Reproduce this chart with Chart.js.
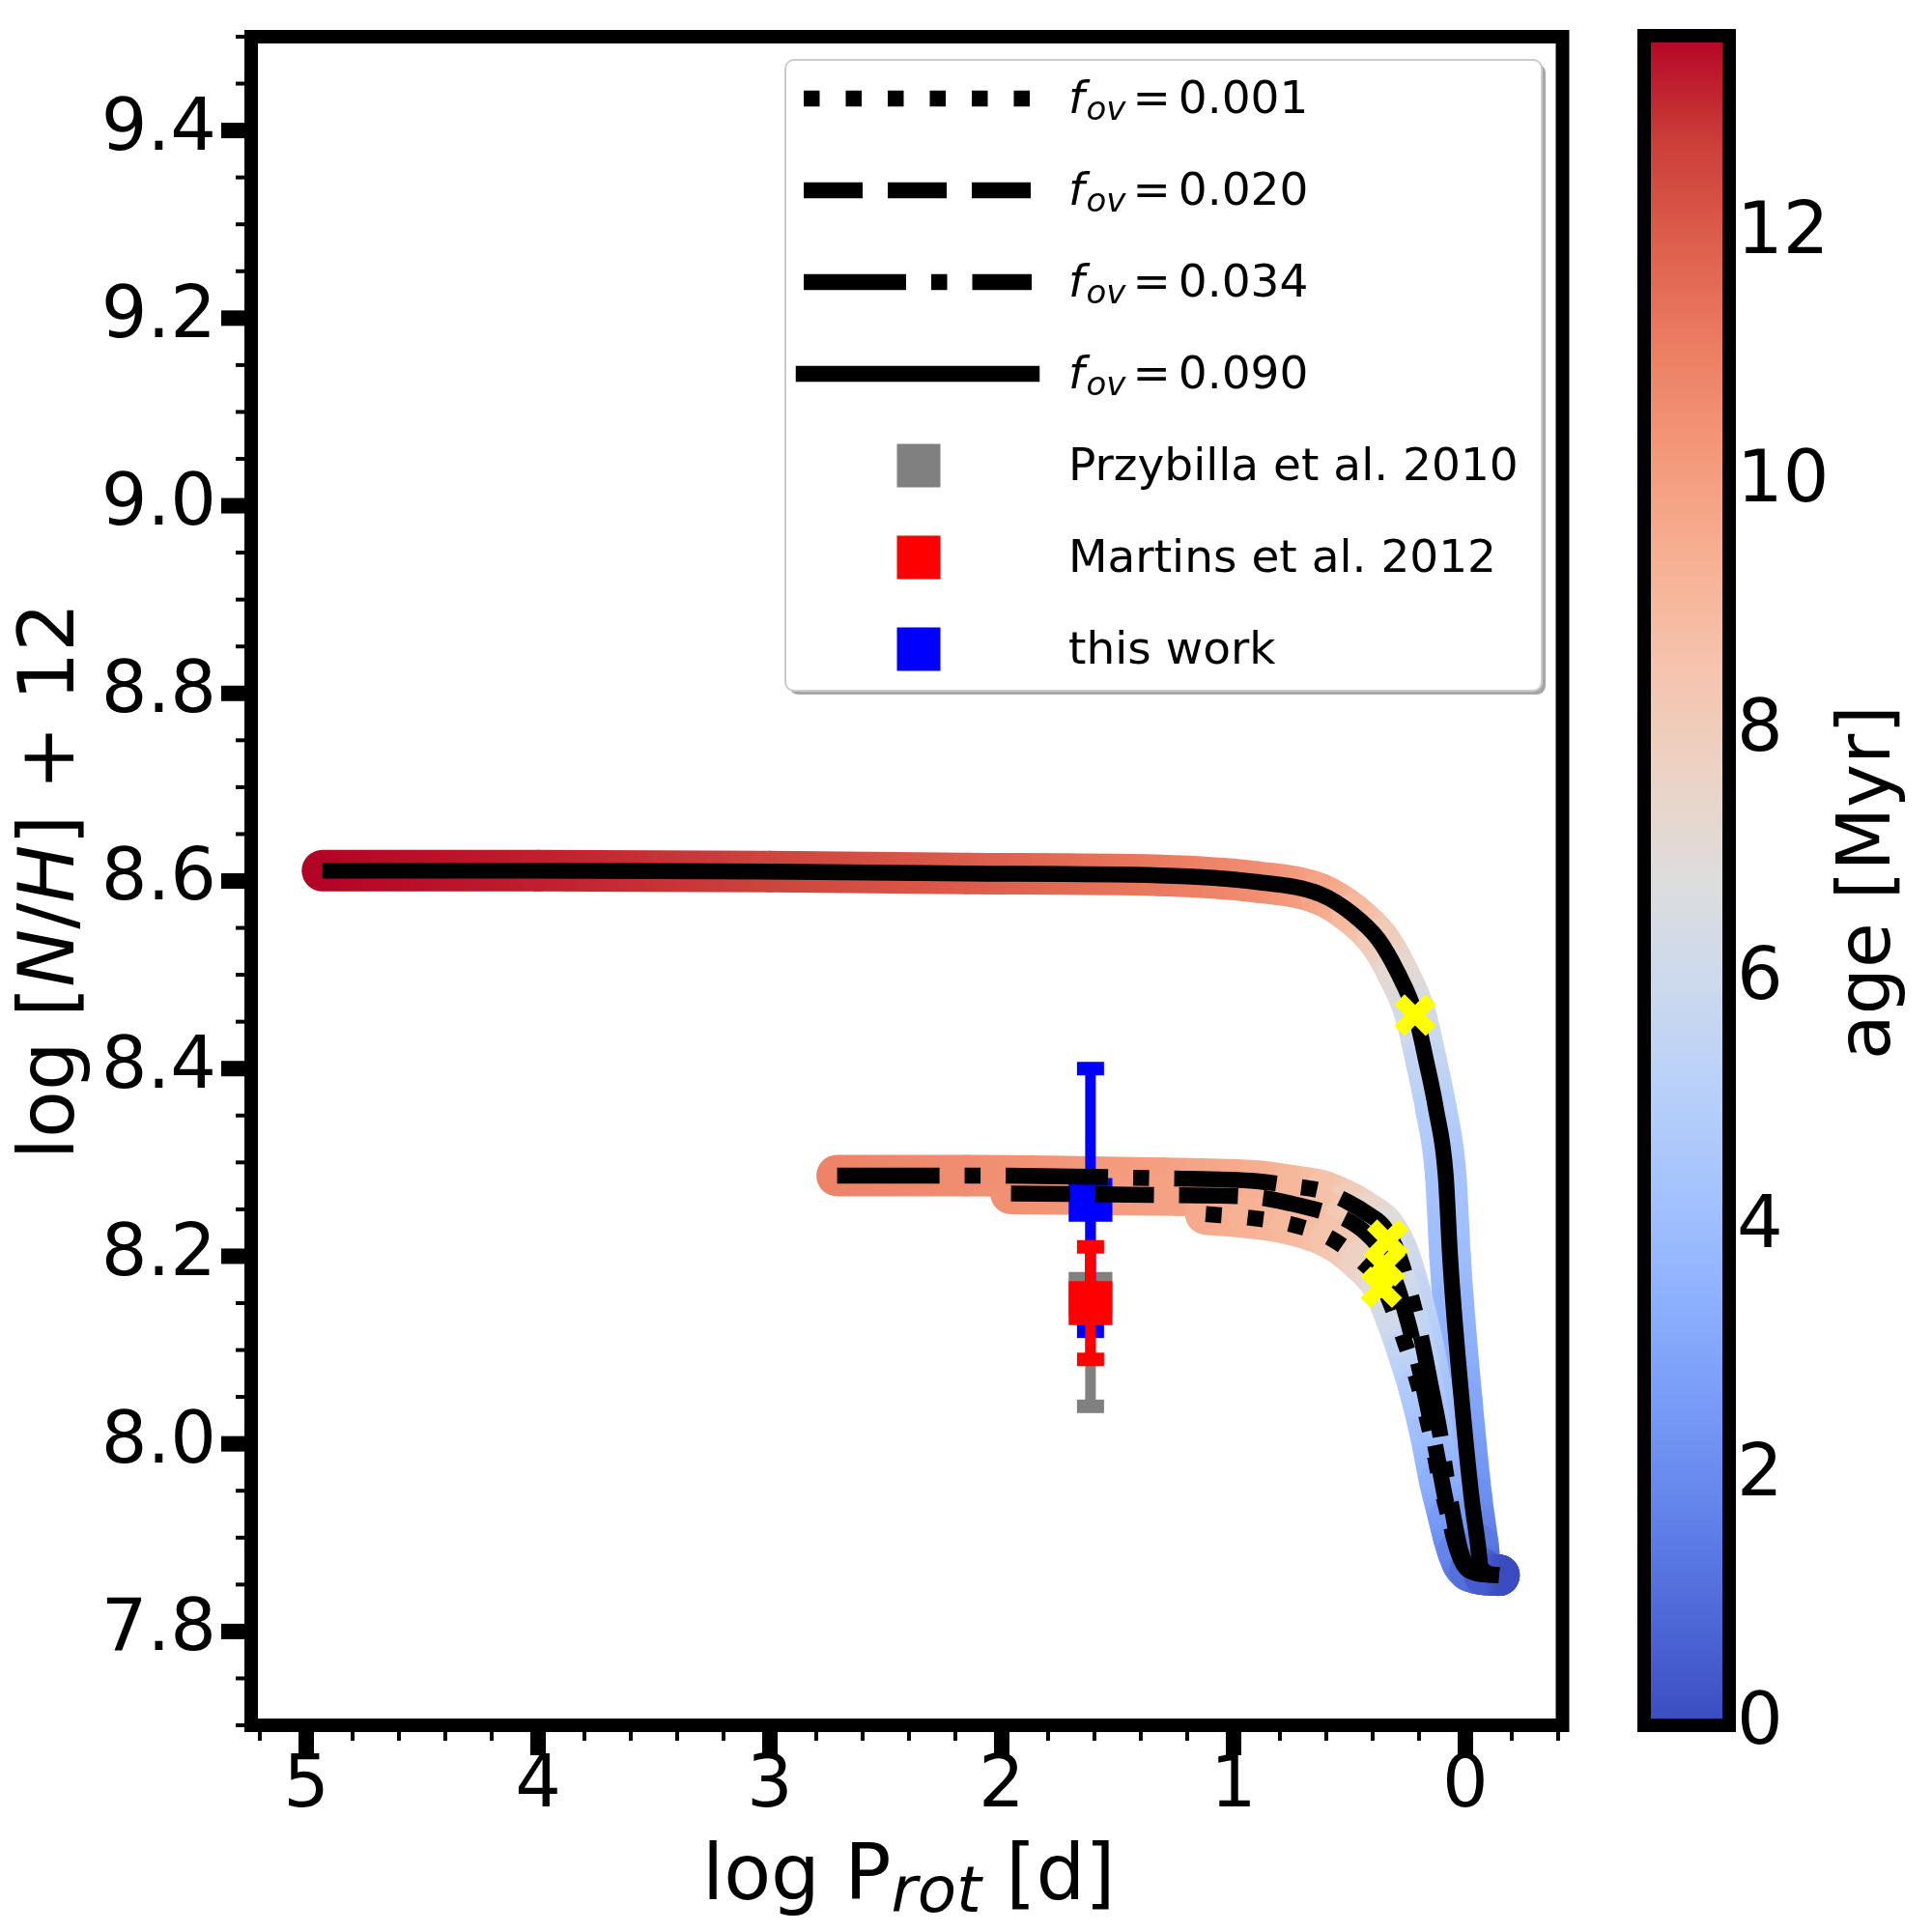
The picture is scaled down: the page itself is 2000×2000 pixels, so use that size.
<!DOCTYPE html>
<html>
<head>
<meta charset="utf-8">
<title>log N/H vs log P_rot</title>
<script src="https://cdn.jsdelivr.net/npm/chart.js@4.4.1/dist/chart.umd.min.js"></script>
<style>
  html, body { margin: 0; padding: 0; background: #fff; }
  #wrap { position: relative; width: 2000px; height: 2000px; background: #fff; }
  #main { position: absolute; left: 0; top: 0; }
  #cbar { position: absolute; left: 1640px; top: 0; }
</style>
</head>
<body>
<div id="wrap">
  <canvas id="main" width="2000" height="2000"></canvas>
  <canvas id="cbar" width="360" height="2000"></canvas>
</div>
<script>
// Tracks: log P_rot [d], log [N/H]+12, age [Myr]
const fovLabels = ['0.001', '0.020', '0.034', '0.090'];

const p001 = [1.12, 0.93, 0.75, 0.58, 0.45, 0.36, 0.30, 0.25, 0.20, 0.15, 0.11, 0.07, 0.03, -0.02, -0.08, -0.145];
const n001 = [8.245, 8.241, 8.234, 8.219, 8.195, 8.170, 8.135, 8.100, 8.060, 8.010, 7.960, 7.920, 7.885, 7.866, 7.861, 7.860];
const age001 = [9.6, 9.3, 9.0, 8.5, 7.7, 6.9, 6.2, 5.5, 4.8, 4.1, 3.4, 2.6, 1.8, 1.1, 0.5, 0.0];

const p020 = [1.96, 1.60, 1.24, 0.98, 0.87, 0.75, 0.62, 0.52, 0.43, 0.36, 0.30, 0.25, 0.20, 0.16, 0.12, 0.085, 0.05, 0.01, -0.05, -0.145];
const n020 = [8.267, 8.266, 8.265, 8.264, 8.262, 8.256, 8.248, 8.240, 8.225, 8.205, 8.172, 8.132, 8.082, 8.036, 7.985, 7.940, 7.900, 7.872, 7.862, 7.860];
const age020 = [10.5, 10.2, 9.9, 9.6, 9.4, 9.1, 8.7, 8.2, 7.6, 6.9, 6.2, 5.6, 5.0, 4.4, 3.7, 3.0, 2.4, 1.6, 0.7, 0.0];

const p034 = [2.71, 2.15, 1.30, 0.90, 0.75, 0.61, 0.50, 0.42, 0.35, 0.29, 0.24, 0.19, 0.15, 0.11, 0.08, 0.05, 0.02, -0.02, -0.08, -0.145];
const n034 = [8.286, 8.286, 8.283, 8.280, 8.275, 8.269, 8.257, 8.245, 8.231, 8.203, 8.163, 8.113, 8.063, 8.012, 7.962, 7.920, 7.885, 7.866, 7.861, 7.860];
const age034 = [10.9, 10.6, 10.0, 9.5, 9.1, 8.6, 8.0, 7.5, 6.9, 6.2, 5.6, 5.0, 4.4, 3.8, 3.2, 2.6, 2.0, 1.3, 0.6, 0.0];

const p090 = [4.93, 4.0, 3.0, 2.15, 1.32, 0.90, 0.626, 0.488, 0.376, 0.293, 0.217, 0.168, 0.126, 0.085, 0.066, 0.052, 0.016, -0.026, -0.054, -0.067, -0.145];
const n090 = [8.611, 8.611, 8.610, 8.608, 8.606, 8.599, 8.586, 8.565, 8.538, 8.503, 8.459, 8.407, 8.356, 8.287, 8.200, 8.150, 8.047, 7.944, 7.893, 7.868, 7.860];
const age090 = [13.6, 13.2, 12.6, 12.0, 11.2, 10.6, 9.8, 9.0, 8.1, 7.2, 6.3, 5.6, 5.0, 4.4, 4.0, 3.7, 3.0, 2.2, 1.4, 0.8, 0.0];

// current position on each track (yellow crosses)
const markP = [0.217, 0.335, 0.349, 0.3625];
const markN = [8.457, 8.217, 8.190, 8.167];

// observations
const obsLabels = ['Przybilla et al. 2010', 'Martins et al. 2012', 'this work'];
const obsP = [1.617, 1.617, 1.617];
const obsN = [8.16, 8.15, 8.26];
const obsErr = [0.12, 0.06, 0.14];

const xTicks = [0, 1, 2, 3, 4, 5];
const yTicks = [7.8, 8.0, 8.2, 8.4, 8.6, 8.8, 9.0, 9.2, 9.4];
const cbTicks = [0, 2, 4, 6, 8, 10, 12];
const AGE_MAX = 13.6;

const FAM = '"DejaVu Sans", "Liberation Sans", sans-serif';
const reg = n => `${n}px ${FAM}`;
const ita = n => `italic ${n}px ${FAM}`;
Chart.defaults.font.family = FAM;

// matplotlib coolwarm, 17 stops
const coolwarm = [
  [59, 76, 192], [77, 104, 215], [98, 130, 234], [119, 154, 247], [141, 176, 254],
  [163, 194, 255], [184, 208, 249], [204, 217, 238], [221, 221, 221], [236, 211, 197],
  [245, 196, 173], [247, 177, 148], [244, 154, 123], [236, 127, 99], [222, 96, 77],
  [203, 62, 56], [180, 4, 38]
];
const rgb = c => `rgb(${Math.round(c[0])},${Math.round(c[1])},${Math.round(c[2])})`;
function cmap(age) {
  const t = Math.min(1, Math.max(0, age / AGE_MAX)) * (coolwarm.length - 1);
  const i = Math.min(coolwarm.length - 2, Math.floor(t));
  const f = t - i, a = coolwarm[i], b = coolwarm[i + 1];
  return rgb([0, 1, 2].map(k => a[k] + (b[k] - a[k]) * f));
}

const zip = (xs, ys) => xs.map((x, i) => ({x, y: ys[i]}));

function bandSegment(ages) {
  return {
    borderColor: c => {
      const a0 = ages[c.p0DataIndex], a1 = ages[c.p1DataIndex];
      const x0 = c.p0.x, y0 = c.p0.y, x1 = c.p1.x, y1 = c.p1.y;
      if (![x0, y0, x1, y1].every(Number.isFinite) || (x0 === x1 && y0 === y1)) return cmap((a0 + a1) / 2);
      const g = c.chart.ctx.createLinearGradient(x0, y0, x1, y1);
      g.addColorStop(0, cmap(a0));
      g.addColorStop(1, cmap(a1));
      return g;
    },
    // keeps every segment separate so each gets its own gradient
    borderDashOffset: c => c.p0DataIndex
  };
}

const tracks = [
  {p: p001, n: n001, age: age001, dash: [16.5, 27]},
  {p: p020, n: n020, age: age020, dash: [61, 26]},
  {p: p034, n: n034, age: age034, dash: [106, 26, 16.5, 26]},
  {p: p090, n: n090, age: age090, dash: []}
];

const datasets = [];
tracks.forEach(t => {
  datasets.push({
    data: zip(t.p, t.n), order: 10, borderWidth: 43, pointRadius: 0,
    borderCapStyle: 'round', borderJoinStyle: 'round', cubicInterpolationMode: 'monotone',
    borderColor: cmap(t.age[0]), segment: bandSegment(t.age)
  });
});
tracks.forEach((t, i) => {
  datasets.push({
    label: 'fov=' + fovLabels[i], data: zip(t.p, t.n), order: 2, borderWidth: 16.5,
    pointRadius: 0, borderColor: '#000', borderDash: t.dash, borderCapStyle: 'butt',
    cubicInterpolationMode: 'monotone', legendLine: true
  });
});
const obsColors = ['#808080', '#ff0000', '#0000ff'];
const obsOrder = [5, 3, 4];
obsLabels.forEach((lab, i) => {
  datasets.push({
    label: lab, data: [{x: obsP[i], y: obsN[i]}], order: obsOrder[i], showLine: false,
    pointStyle: 'rect', pointRadius: 32, pointBorderWidth: 0,
    pointBackgroundColor: obsColors[i], backgroundColor: obsColors[i], borderColor: obsColors[i],
    errorBars: [obsErr[i]], legendSquare: true
  });
});
datasets.push({
  data: zip(markP, markN), order: 0, showLine: false, pointStyle: 'crossRot',
  pointRadius: 23, pointBorderWidth: 15, pointBorderColor: '#ffff00', pointBackgroundColor: '#ffff00'
});

function richText(ctx, parts, x, y, rotate) {
  ctx.save();
  ctx.translate(x, y);
  if (rotate) ctx.rotate(-Math.PI / 2);
  ctx.textAlign = 'left';
  ctx.textBaseline = 'alphabetic';
  ctx.fillStyle = '#000';
  let w = 0;
  parts.forEach(p => { ctx.font = p[1]; w += ctx.measureText(p[0]).width; });
  let cx = -w / 2;
  parts.forEach(p => {
    ctx.font = p[1];
    ctx.fillText(p[0], cx, p[2] || 0);
    cx += ctx.measureText(p[0]).width;
  });
  ctx.restore();
}

function roundRect(ctx, x, y, w, h, r) {
  ctx.beginPath();
  ctx.moveTo(x + r, y);
  ctx.arcTo(x + w, y, x + w, y + h, r);
  ctx.arcTo(x + w, y + h, x, y + h, r);
  ctx.arcTo(x, y + h, x, y, r);
  ctx.arcTo(x, y, x + w, y, r);
  ctx.closePath();
}

function drawLegend(chart) {
  const ctx = chart.ctx;
  const L = 813, T = 62, W = 783, H = 653;
  ctx.save();
  ctx.fillStyle = 'rgba(0,0,0,0.35)';
  roundRect(ctx, L + 4, T + 4, W, H, 9); ctx.fill();
  ctx.fillStyle = '#fff';
  roundRect(ctx, L, T, W, H, 9); ctx.fill();
  ctx.strokeStyle = '#cccccc'; ctx.lineWidth = 2; ctx.stroke();

  const entries = chart.data.datasets.filter(d => d.legendLine || d.legendSquare);
  entries.forEach((d, k) => {
    const ry = 102 + 95 * k;
    if (d.legendLine) {
      ctx.save();
      ctx.strokeStyle = '#000';
      ctx.lineWidth = d.borderWidth;
      ctx.setLineDash(d.borderDash);
      ctx.lineCap = d.borderDash.length ? 'butt' : 'square';
      ctx.beginPath(); ctx.moveTo(832, ry); ctx.lineTo(1068, ry); ctx.stroke();
      ctx.restore();
      // f_ov = value
      let x = 1106;
      const base = ry + 15;
      ctx.fillStyle = '#000'; ctx.textBaseline = 'alphabetic'; ctx.textAlign = 'left';
      ctx.font = ita(47); ctx.fillText('f', x, base); x += ctx.measureText('f').width + 2;
      ctx.font = ita(34); ctx.fillText('ov', x, base + 7); x += ctx.measureText('ov').width + 7;
      ctx.font = reg(47); ctx.fillText('=', x, base); x += ctx.measureText('=').width + 8;
      ctx.fillText(fovLabels[k], x, base);
    } else {
      ctx.fillStyle = d.backgroundColor;
      ctx.fillRect(951 - 22.5, ry - 22.5, 45, 45);
      ctx.fillStyle = '#000'; ctx.font = reg(47);
      ctx.textBaseline = 'alphabetic'; ctx.textAlign = 'left';
      ctx.fillText(d.label, 1106, ry + 15);
    }
  });
  ctx.restore();
}

const decor = {
  id: 'decor',
  beforeDatasetDraw(chart, args) {
    const ds = chart.data.datasets[args.index];
    if (!ds.errorBars) return;
    const {ctx, scales: {x, y}} = chart;
    ctx.save();
    ds.data.forEach((pt, i) => {
      const e = ds.errorBars[i];
      const px = x.getPixelForValue(pt.x);
      const hi = y.getPixelForValue(pt.y + e), lo = y.getPixelForValue(pt.y - e);
      ctx.strokeStyle = ds.backgroundColor; ctx.lineWidth = 11;
      ctx.beginPath(); ctx.moveTo(px, hi); ctx.lineTo(px, lo); ctx.stroke();
      ctx.fillStyle = ds.backgroundColor;
      ctx.fillRect(px - 14, hi - 7, 28, 14);
      ctx.fillRect(px - 14, lo - 7, 28, 14);
    });
    ctx.restore();
  },
  afterDatasetsDraw(chart) {
    const {ctx, chartArea: a, scales: {x, y}} = chart;
    ctx.save();
    ctx.fillStyle = '#000';
    for (let k = -2; k <= 26; k++) {
      if (k % 5 === 0) continue;
      const px = x.getPixelForValue(k * 0.2);
      ctx.fillRect(px - 2, a.bottom, 4, 16);
    }
    x.ticks.forEach(t => ctx.fillRect(x.getPixelForValue(t.value) - 8, a.bottom, 16, 31));
    for (let k = 154; k <= 190; k++) {
      if (k % 4 === 0) continue;
      const py = y.getPixelForValue(k * 0.05);
      ctx.fillRect(a.left - 16, py - 2, 16, 4);
    }
    y.ticks.forEach(t => ctx.fillRect(a.left - 31, y.getPixelForValue(t.value) - 8, 31, 16));
    ctx.strokeStyle = '#000'; ctx.lineWidth = 14;
    ctx.strokeRect(a.left, a.top, a.right - a.left, a.bottom - a.top);
    ctx.restore();
  },
  afterDraw(chart) {
    const {ctx, chartArea: a} = chart;
    richText(ctx, [['log P', reg(80)], ['rot', ita(66), 13], [' [d]', reg(80)]], (a.left + a.right) / 2 + 2, 1966);
    richText(ctx, [['log [', reg(80)], ['N', ita(80)], ['/', reg(80)], ['H', ita(80)], ['] + 12', reg(80)]],
      76, (a.top + a.bottom) / 2, true);
    drawLegend(chart);
  }
};

const tickFont = {family: FAM, size: 75};
// stop the scales from reserving room for half-labels at the ends
const noPad = s => { s.paddingTop = 0; s.paddingBottom = 0; s.paddingLeft = 0; s.paddingRight = 0; };

new Chart(document.getElementById('main'), {
  type: 'line',
  data: {datasets},
  options: {
    responsive: false,
    animation: false,
    events: [],
    layout: {padding: {left: 0, top: 37, right: 382.5, bottom: 0}},
    plugins: {legend: {display: false}, tooltip: {enabled: false}},
    scales: {
      x: {
        type: 'linear', reverse: true, min: -0.419, max: 5.2375,
        afterBuildTicks: s => { s.ticks = xTicks.map(v => ({value: v})); },
        afterFit: s => { s.height = 214; noPad(s); },
        grid: {display: false, drawTicks: false}, border: {display: false},
        ticks: {padding: 20, font: tickFont, color: '#000', autoSkip: false, maxRotation: 0, callback: v => String(v)}
      },
      y: {
        type: 'linear', min: 7.7, max: 9.5,
        afterBuildTicks: s => { s.ticks = yTicks.map(v => ({value: v})); },
        afterFit: s => { s.width = 260; noPad(s); },
        grid: {display: false, drawTicks: false}, border: {display: false},
        ticks: {padding: 36, font: tickFont, color: '#000', autoSkip: false, callback: v => v.toFixed(1)}
      }
    }
  },
  plugins: [decor]
});

const cbarDecor = {
  id: 'cbarDecor',
  afterDraw(chart) {
    const {ctx, chartArea: a, scales: {y}} = chart;
    ctx.save();
    const g = ctx.createLinearGradient(0, y.getPixelForValue(0), 0, y.getPixelForValue(AGE_MAX));
    coolwarm.forEach((c, i) => g.addColorStop(i / (coolwarm.length - 1), rgb(c)));
    ctx.fillStyle = g;
    ctx.fillRect(a.left, a.top, a.right - a.left, a.bottom - a.top);
    ctx.strokeStyle = '#000'; ctx.lineWidth = 14;
    ctx.strokeRect(a.left, a.top, a.right - a.left, a.bottom - a.top);
    ctx.restore();
    richText(ctx, [['age [Myr]', reg(76)]], 316, (a.top + a.bottom) / 2 + 2, true);
  }
};

new Chart(document.getElementById('cbar'), {
  type: 'line',
  data: {datasets: []},
  options: {
    responsive: false,
    animation: false,
    events: [],
    layout: {padding: {left: 62, top: 37, right: 0, bottom: 214}},
    plugins: {legend: {display: false}, tooltip: {enabled: false}},
    scales: {
      x: {type: 'linear', display: false, min: 0, max: 1},
      y: {
        type: 'linear', position: 'right', min: 0, max: AGE_MAX,
        afterBuildTicks: s => { s.ticks = cbTicks.map(v => ({value: v})); },
        afterFit: s => { s.width = 210; noPad(s); },
        grid: {display: false, drawTicks: false}, border: {display: false},
        ticks: {padding: 8, font: tickFont, color: '#000', autoSkip: false, callback: v => String(v)}
      }
    }
  },
  plugins: [cbarDecor]
});
</script>
</body>
</html>
